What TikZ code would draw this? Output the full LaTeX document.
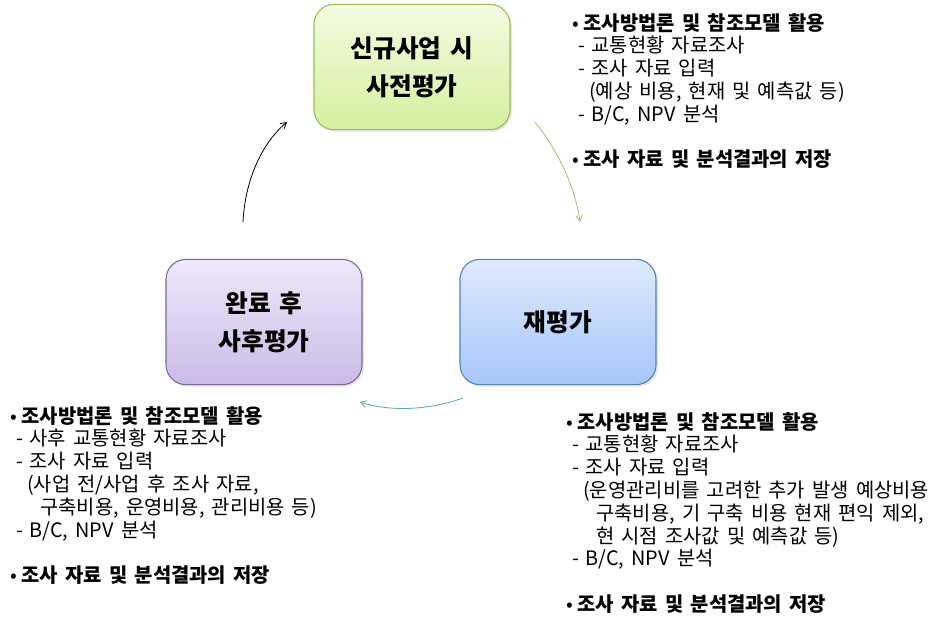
\documentclass[tikz,border=0pt]{standalone}
\usepackage{fontspec}
\setmainfont{Noto Sans CJK KR}[WordSpace=1.6]
\usetikzlibrary{positioning,arrows.meta,shadows}
\definecolor{greenline}{RGB}{155,187,89}
\definecolor{greentop}{RGB}{244,251,226}
\definecolor{greenbot}{RGB}{212,240,158}
\definecolor{purpleline}{RGB}{128,100,162}
\definecolor{purpletop}{RGB}{238,232,248}
\definecolor{purplebot}{RGB}{202,188,232}
\definecolor{blueline}{RGB}{79,129,189}
\definecolor{bluetop}{RGB}{222,234,253}
\definecolor{bluebot}{RGB}{166,198,250}
\definecolor{arrowgreen}{RGB}{165,185,110}
\definecolor{arrowteal}{RGB}{80,170,165}
\newcommand{\bitem}[1]{\makebox[8.5pt][l]{•}\textbf{#1}}
\newcommand{\ditem}[1]{\hspace*{4.5pt}\makebox[10pt][l]{-}#1}
\newcommand{\pitem}[1]{\hspace*{12.75pt}#1}
\newcommand{\citem}[1]{\hspace*{22.5pt}#1}
\begin{document}
\begin{tikzpicture}[x=0.75pt,y=-0.75pt,
stage/.style={rectangle, rounded corners=15pt, draw, line width=0.8pt,
  minimum width=147pt, minimum height=94pt, align=center,
  font=\fontsize{18.5}{28.5}\selectfont\bfseries,
  drop shadow={opacity=0.2, shadow xshift=1.5pt, shadow yshift=-1.5pt}},
info/.style={anchor=north west, align=left, inner sep=0pt,
  font=\fontsize{14.9}{17.1}\selectfont},
flow/.style={line width=0.6pt, -{Straight Barb[angle=60:5pt]}}
]
\useasboundingbox (0,0) rectangle (947,619);
% stages
\node[stage, draw=greenline, top color=greentop, bottom color=greenbot] (pre) at (412,67) {신규사업 시\\사전평가};
\node[stage, draw=blueline, top color=bluetop, bottom color=bluebot] (re) at (558,322) {재평가};
\node[stage, draw=purpleline, top color=purpletop, bottom color=purplebot] (post) at (264,322) {완료 후\\사후평가};
% notes
\node[info] (preinfo) at (572,13) {\bitem{조사방법론 및 참조모델 활용}\\
  \ditem{교통현황 자료조사}\\
  \ditem{조사 자료 입력}\\
  \pitem{(예상 비용, 현재 및 예측값 등)}\\
  \ditem{B/C, NPV 분석}\\[17.1pt]
  \bitem{조사 자료 및 분석결과의 저장}};
\node[info] (postinfo) at (10,406) {\bitem{조사방법론 및 참조모델 활용}\\
  \ditem{사후 교통현황 자료조사}\\
  \ditem{조사 자료 입력}\\
  \pitem{(사업 전/사업 후 조사 자료,}\\
  \citem{구축비용, 운영비용, 관리비용 등)}\\
  \ditem{B/C, NPV 분석}\\[17.1pt]
  \bitem{조사 자료 및 분석결과의 저장}};
\node[info] (reinfo) at (566,412) {\bitem{조사방법론 및 참조모델 활용}\\
  \ditem{교통현황 자료조사}\\
  \ditem{조사 자료 입력}\\
  \pitem{(운영관리비를 고려한 추가 발생 예상비용}\\
  \citem{구축비용, 기 구축 비용 현재 편익 제외,}\\
  \citem{현 시점 조사값 및 예측값 등)}\\
  \ditem{B/C, NPV 분석}\\[17.1pt]
  \bitem{조사 자료 및 분석결과의 저장}};
% cycle arrows
\coordinate (upS) at (243,222);
\coordinate (upE) at (287,122);
\coordinate (downS) at (535,122);
\coordinate (downE) at (580,222);
\coordinate (backS) at (463,398);
\coordinate (backE) at (360,402);
\draw[flow] (upS) .. controls (245,180) and (262,143) .. (upE);
\draw[flow, arrowgreen] (downS) .. controls (556,148) and (575,185) .. (downE);
\draw[flow, arrowteal] (backS) .. controls (430,410) and (390,412) .. (backE);
\end{tikzpicture}
\end{document}
